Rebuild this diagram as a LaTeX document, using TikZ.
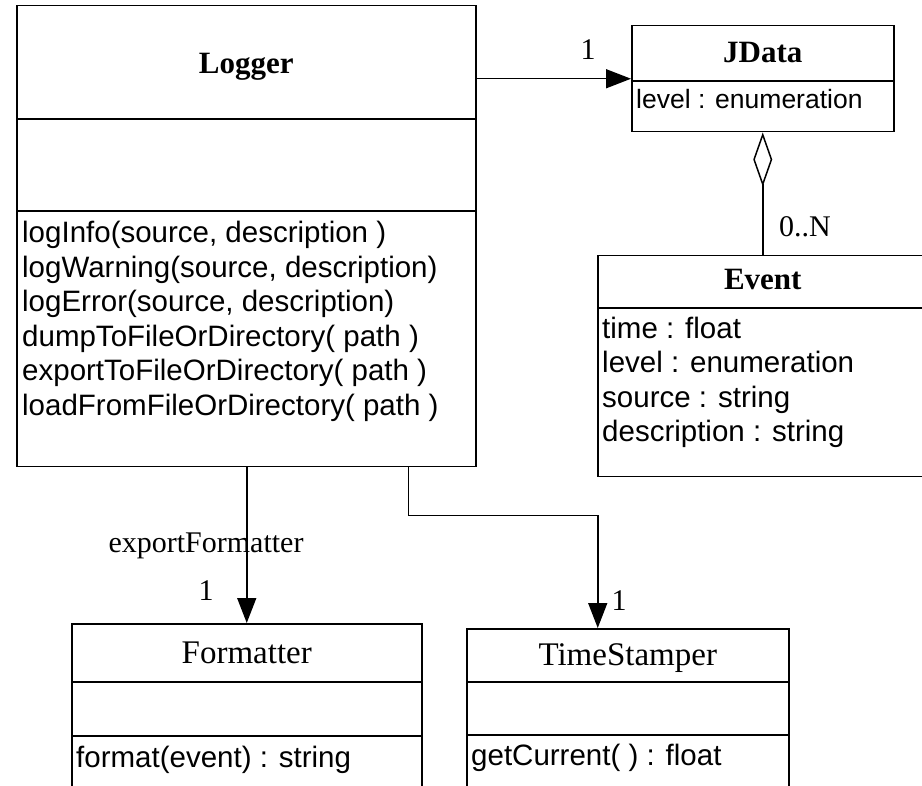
\documentclass[tikz,border=0pt]{standalone}
\usepackage{fontspec}
\setmainfont{Liberation Serif}
\setsansfont{Liberation Sans}
\usetikzlibrary{arrows.meta,calc}
\tikzset{
  umlbox/.style={draw, line width=1.5pt, rectangle, inner sep=0pt, anchor=north west},
  titlebold/.style={font=\fontsize{31}{36}\selectfont\bfseries, inner sep=0pt, anchor=base},
  titleplain/.style={font=\fontsize{33}{38}\selectfont, inner sep=0pt, anchor=base},
  member/.style={font=\sffamily\fontsize{29.5}{33}\selectfont, inner sep=0pt, anchor=base west},
  smallmember/.style={member, font=\sffamily\fontsize{26.5}{30}\selectfont},
  mult/.style={font=\fontsize{30}{34}\selectfont, inner sep=0pt, anchor=base},
  divider/.style={line width=1.5pt},
  assoc/.style={line width=1.5pt, -{Triangle[length=25pt,width=19pt]}},
  aggr/.style={line width=1.5pt, {Diamond[open,length=54pt,width=19pt]}-},
}
\begin{document}
\begin{tikzpicture}[x=1pt,y=-1pt]
\useasboundingbox (0,0) rectangle (922,786);
\clip (0,0) rectangle (922,786);

% ---------- class boxes ----------
\node[umlbox, minimum width=459pt, minimum height=461pt] (logger) at (16,5) {};
\node[umlbox, minimum width=262pt, minimum height=106pt] (jdata) at (631,25) {};
\node[umlbox, minimum width=330pt, minimum height=221pt] (event) at (597,255) {};
\node[umlbox, minimum width=350pt, minimum height=250pt] (formatter) at (71,623) {};
\node[umlbox, minimum width=322pt, minimum height=250pt] (timestamper) at (466,628) {};

% ---------- compartment dividers ----------
\draw[divider] ([yshift=-114pt]logger.north west) -- ([yshift=-114pt]logger.north east);
\draw[divider] ([yshift=-206pt]logger.north west) -- ([yshift=-206pt]logger.north east);
\draw[divider] ([yshift=-56pt]jdata.north west) -- ([yshift=-56pt]jdata.north east);
\draw[divider] ([yshift=-53pt]event.north west) -- ([yshift=-53pt]event.north east);
\draw[divider] ([yshift=-59pt]formatter.north west) -- ([yshift=-59pt]formatter.north east);
\draw[divider] ([yshift=-113pt]formatter.north west) -- ([yshift=-113pt]formatter.north east);
\draw[divider] ([yshift=-54pt]timestamper.north west) -- ([yshift=-54pt]timestamper.north east);
\draw[divider] ([yshift=-107pt]timestamper.north west) -- ([yshift=-107pt]timestamper.north east);

% ---------- class names ----------
\node[titlebold] (logger-name) at ([yshift=-69pt]logger.north) {Logger};
\node[titlebold] (jdata-name) at ([yshift=-38pt]jdata.north) {JData};
\node[titlebold] (event-name) at ([yshift=-35pt]event.north) {Event};
\node[titleplain] (formatter-name) at ([yshift=-40pt]formatter.north) {Formatter};
\node[titleplain] (timestamper-name) at ([yshift=-37pt]timestamper.north) {TimeStamper};

% ---------- members ----------
\node[member] (lg1) at (22,243) {logInfo(source, description )};
\node[member] (lg2) at (22,277.5) {logWarning(source, description)};
\node[member] (lg3) at (22,312) {logError(source, description)};
\node[member] (lg4) at (22,346.5) {dumpToFileOrDirectory( path )};
\node[member] (lg5) at (22,381) {exportToFileOrDirectory( path )};
\node[member] (lg6) at (22,415.5) {loadFromFileOrDirectory( path )};

\node[smallmember] (jd1) at (636,109) {level : enumeration};

\node[member] (ev1) at (602,339) {time : float};
\node[member] (ev2) at (602,373) {level : enumeration};
\node[member] (ev3) at (602,408) {source : string};
\node[member] (ev4) at (602,442) {description : string};

\node[member] (fm1) at (76,767) {format(event) : string};
\node[member] (ts1) at (471,765) {getCurrent( ) : float};

% ---------- relations ----------
\draw[assoc] (logger.east |- jdata.west) -- (jdata.west);
\draw[aggr] (jdata.south) -- (jdata.south |- event.north);
\draw[assoc] (formatter.north |- logger.south) -- (formatter.north);
\draw[assoc] ([xshift=-68pt]logger.south east) -- ++(0,48) -| ([xshift=-30pt]timestamper.north);

% ---------- multiplicities and roles ----------
\node[mult] (m-jdata) at (588,60) {1};
\node[mult] (m-event) at (805,237) {0..N};
\node[mult] (role-fmt) at (206,552) {exportFormatter};
\node[mult] (m-fmt) at (206,600) {1};
\node[mult] (m-ts) at (619,610) {1};
\end{tikzpicture}
\end{document}
